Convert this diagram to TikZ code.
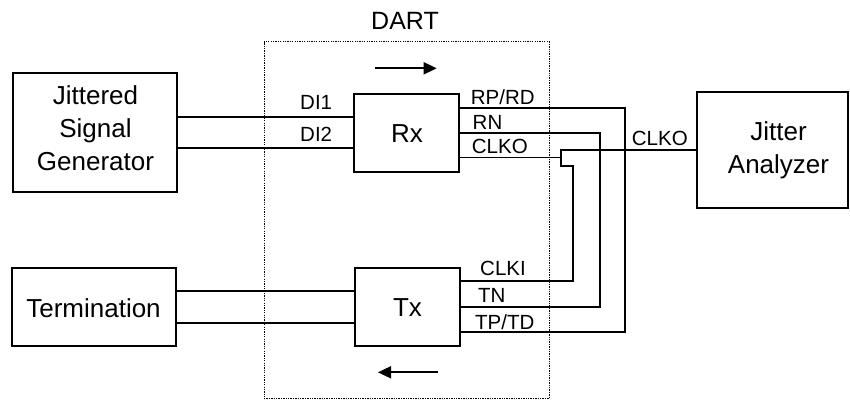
\documentclass[tikz,border=0pt]{standalone}
\usepackage{fontspec}
\setmainfont{Liberation Sans}
\usetikzlibrary{arrows.meta}
\begin{document}
\begin{tikzpicture}[x=1pt,y=-1pt,
  box/.style={draw, line width=1.8pt, inner sep=0pt},
  wire/.style={line width=1.8pt},
  big/.style={font=\fontsize{26}{33}\selectfont, inner sep=0pt, anchor=base},
  small/.style={font=\fontsize{20.5}{24}\selectfont, inner sep=0pt, anchor=base west},
  flow/.style={line width=1.8pt, -{Triangle[length=13pt,width=12pt]}},
  dartbox/.style={draw, line width=1pt, dash pattern=on 1.3pt off 1.1pt, inner sep=0pt}]
\useasboundingbox (0,0) rectangle (850,400);
% DART boundary
\node[dartbox, minimum width=285pt, minimum height=357pt] (dart) at (406.5,220) {};
\node[big, font=\fontsize{25}{30}\selectfont] (dartl) at (405,29) {DART};
% boxes
\node[box, minimum width=164pt, minimum height=118.4pt] (gen) at (94.7,132.5) {};
\node[big] (gen1) at (95.5,104) {Jittered};
\node[big] (gen2) at (95.5,137) {Signal};
\node[big] (gen3) at (95.5,170) {Generator};
\node[box, minimum width=164pt, minimum height=78pt] (term) at (94,306.7) {};
\node[big] (terml) at (93.5,317) {Termination};
\node[box, minimum width=105.3pt, minimum height=78pt] (rx) at (406.7,132.7) {};
\node[big] (rxl) at (407,142.6) {Rx};
\node[box, minimum width=105pt, minimum height=78pt] (tx) at (407.5,306.7) {};
\node[big] (txl) at (407.5,316.6) {Tx};
\node[box, minimum width=151.3pt, minimum height=116pt] (ja) at (772.3,150.3) {};
\node[big] (ja1) at (778.5,140) {Jitter};
\node[big] (ja2) at (778.5,173) {Analyzer};
% direction arrows
\coordinate (ra0) at (375,68.3); \coordinate (ra1) at (436.7,68.3);
\draw[flow] (ra0) -- (ra1);
\coordinate (ta0) at (437.7,372.3); \coordinate (ta1) at (378,372.3);
\draw[flow] (ta0) -- (ta1);
% generator to Rx
\draw[wire] (gen.east |- 0,116.7) -- (rx.west |- 0,116.7);
\draw[wire] (gen.east |- 0,148.3) -- (rx.west |- 0,148.3);
% termination to Tx
\draw[wire] (term.east |- 0,291) -- (tx.west |- 0,291);
\draw[wire] (term.east |- 0,323) -- (tx.west |- 0,323);
% Rx to Tx loops
\draw[wire] (rx.east |- 0,107.7) -- (625,107.7) -- (625,332) -- (tx.east |- 0,332);
\draw[wire] (rx.east |- 0,132.7) -- (600,132.7) -- (600,306.7) -- (tx.east |- 0,306.7);
\coordinate (cj) at (560.7,157.5);
\draw[wire] (rx.east |- cj) -- (cj);
\draw[wire] (ja.west |- 0,150.3) -- (cj |- 0,150.3) -- (cj |- 0,165.7) -- (573.3,165.7) -- (573.3,280.7) -- (tx.east |- 0,280.7);
% labels
\node[small] (di1) at (300,109.6) {DI1};
\node[small] (di2) at (300,141.6) {DI2};
\node[small] (rprd) at (470.7,104.6) {RP/RD};
\node[small] (rn) at (472.5,129) {RN};
\node[small] (clko) at (471.7,153.3) {CLKO};
\node[small] (clko2) at (631.7,145.6) {CLKO};
\node[small] (clki) at (480,275) {CLKI};
\node[small] (tn) at (478,302.3) {TN};
\node[small] (tptd) at (475,329) {TP/TD};
\end{tikzpicture}
\end{document}
